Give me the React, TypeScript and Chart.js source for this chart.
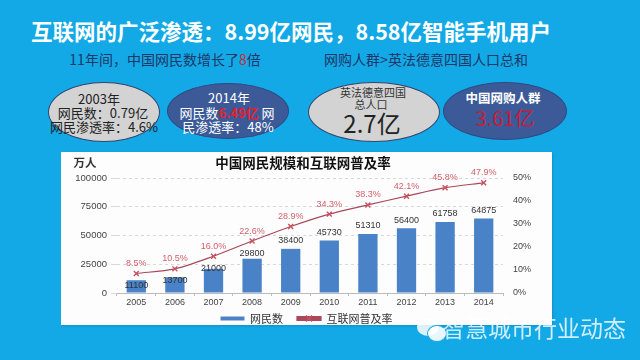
import React, { useEffect, useRef } from "react";
import { Chart, registerables } from "chart.js";

Chart.register(...registerables);

const years = ["2005", "2006", "2007", "2008", "2009", "2010", "2011", "2012", "2013", "2014"];
const netizens = [11100, 13700, 21000, 29800, 38400, 45730, 51310, 56400, 61758, 64875];
const penetration = [8.5, 10.5, 16.0, 22.6, 28.9, 34.3, 38.3, 42.1, 45.8, 47.9];
const seriesNames = ["网民数", "互联网普及率"];
const leftMax = 100000;
const leftStep = 25000;
const rightMax = 50;
const rightStep = 10;

const CJK = "'Noto Sans CJK SC', 'Liberation Sans', sans-serif";
const LATIN = "'Liberation Sans', Arial, 'Noto Sans CJK SC', sans-serif";

const BAR_COLOR = "#4a82c8";
const LINE_COLOR = "#a8485a";
const POINT_COLOR = "#c9505e";
const LABEL_RED = "#d0606a";
const LEGEND_PAD = 14;

function Txt(props: {
  x: number;
  y: number;
  size: number;
  color: string;
  bold?: boolean;
  family?: string;
  children: React.ReactNode;
  opacity?: number;
}) {
  return (
    <div
      style={{
        position: "absolute",
        left: props.x,
        top: props.y,
        transform: "translate(-50%, -50%)",
        whiteSpace: "nowrap",
        fontSize: props.size,
        lineHeight: 1,
        color: props.color,
        fontWeight: props.bold ? 700 : 400,
        fontFamily: props.family || CJK,
        opacity: props.opacity ?? 1,
      }}
    >
      {props.children}
    </div>
  );
}

function Ellipse(props: { cx: number; cy: number; rx: number; ry: number; fill: string; border: string }) {
  return (
    <div
      style={{
        position: "absolute",
        left: props.cx - props.rx,
        top: props.cy - props.ry,
        width: props.rx * 2,
        height: props.ry * 2,
        borderRadius: "50%",
        background: props.fill,
        border: `1px solid ${props.border}`,
        boxSizing: "border-box",
      }}
    />
  );
}

export default function App() {
  const canvasRef = useRef<HTMLCanvasElement>(null);

  useEffect(() => {
    document.body.style.margin = "0";
    const canvas = canvasRef.current;
    if (!canvas) return;

    const labelPlugin = {
      id: "valueLabels",
      beforeUpdate(chart: any) {
        const lg = chart.legend;
        if (lg && !lg.__patched) {
          const orig = lg.fit;
          lg.fit = function () {
            orig.call(this);
            this.height = 12;
          };
          lg.__patched = true;
        }
      },
      afterLayout(chart: any) {
        const lg = chart.legend;
        if (lg) {
          lg.top -= LEGEND_PAD;
        }
      },
      afterDatasetsDraw(chart: any) {
        const ctx = chart.ctx;
        const barMeta = chart.getDatasetMeta(0);
        const lineMeta = chart.getDatasetMeta(1);
        ctx.save();
        ctx.textAlign = "center";
        ctx.textBaseline = "middle";
        ctx.font = `9px ${LATIN}`;
        ctx.fillStyle = "#333";
        barMeta.data.forEach((bar: any, i: number) => {
          const pt = lineMeta.data[i];
          const y = Math.max(bar.y - 8, pt.y + 12);
          ctx.fillText(String(netizens[i]), bar.x, y);
        });
        ctx.fillStyle = LABEL_RED;
        lineMeta.data.forEach((pt: any, i: number) => {
          ctx.fillText(penetration[i].toFixed(1) + "%", pt.x, pt.y - 10);
        });
        ctx.restore();
      },
      afterDraw(chart: any) {
        const legend = chart.legend;
        if (!legend || !legend.legendHitBoxes || legend.legendHitBoxes.length < 2) return;
        const idx = legend.legendItems.findIndex((it: any) => it.datasetIndex === 1);
        if (idx < 0) return;
        const hb = legend.legendHitBoxes[idx];
        const bw = legend.options.labels.boxWidth;
        const cx = hb.left + bw / 2;
        const cy = hb.top + hb.height / 2;
        const ctx = chart.ctx;
        ctx.save();
        ctx.strokeStyle = POINT_COLOR;
        ctx.lineWidth = 1.3;
        ctx.beginPath();
        ctx.moveTo(cx - 3, cy - 3);
        ctx.lineTo(cx + 3, cy + 3);
        ctx.moveTo(cx + 3, cy - 3);
        ctx.lineTo(cx - 3, cy + 3);
        ctx.stroke();
        ctx.restore();
      },
    };

    const chart = new Chart(canvas, {
      type: "bar",
      data: {
        labels: years,
        datasets: [
          {
            type: "bar",
            label: seriesNames[0],
            data: netizens,
            backgroundColor: BAR_COLOR,
            borderColor: BAR_COLOR,
            borderWidth: 0,
            yAxisID: "y",
            barPercentage: 0.5,
            categoryPercentage: 1.0,
            order: 2,
          },
          {
            type: "line",
            label: seriesNames[1],
            data: penetration,
            borderColor: LINE_COLOR,
            backgroundColor: LINE_COLOR,
            borderWidth: 1.2,
            tension: 0.3,
            pointStyle: "crossRot",
            pointRadius: 3.5,
            pointBorderColor: POINT_COLOR,
            pointBorderWidth: 1.4,
            yAxisID: "y1",
            order: 1,
          } as any,
        ],
      },
      options: {
        responsive: false,
        animation: false,
        devicePixelRatio: 1,
        layout: { padding: { top: 26, left: 0, right: 0, bottom: 0 } },
        scales: {
          x: {
            offset: true,
            grid: { display: true, drawOnChartArea: false, drawTicks: true, tickLength: 3, color: "#bbb" },
            border: { display: true, color: "#bbb" },
            ticks: { font: { size: 9, family: LATIN }, color: "#444", padding: 1 },
            afterFit(scale: any) {
              scale.height = 20;
            },
          },
          y: {
            position: "left",
            min: 0,
            max: leftMax,
            ticks: {
              stepSize: leftStep,
              font: { size: 9.5, family: LATIN },
              color: "#444",
              padding: 4,
              callback: (v: any) => String(v),
            },
            grid: { color: "#d8d8d8", tickLength: 6, drawTicks: true },
            border: { display: false, dash: [3, 3] },
            afterFit(scale: any) {
              scale.width = 56;
            },
          },
          y1: {
            position: "right",
            min: 0,
            max: rightMax,
            ticks: {
              stepSize: rightStep,
              font: { size: 9, family: LATIN },
              color: "#444",
              padding: 10,
              callback: (v: any) => v + "%",
            },
            grid: { drawOnChartArea: false, drawTicks: false },
            border: { display: false },
            afterFit(scale: any) {
              scale.width = 49;
            },
          },
        },
        plugins: {
          legend: {
            position: "bottom",
            labels: {
              font: { size: 11, family: CJK },
              color: "#333",
              boxWidth: 24,
              boxHeight: 4,
              padding: LEGEND_PAD,
              sort: (a: any, b: any) => a.datasetIndex - b.datasetIndex,
            },
          },
          tooltip: { enabled: false },
          title: { display: false },
        },
      } as any,
      plugins: [labelPlugin],
    });

    return () => {
      chart.destroy();
    };
  }, []);

  return (
    <div
      style={{
        position: "absolute",
        left: 0,
        top: 0,
        width: 640,
        height: 360,
        background: "#12a9e6",
        overflow: "hidden",
        fontFamily: CJK,
      }}
    >
      <Txt x={291} y={31} size={21.5} color="#ffffff" bold>
        互联网的广泛渗透：8.99亿网民，8.58亿智能手机用户
      </Txt>
      <Txt x={165} y={59} size={14} color="#1f3768">
        11年间，中国网民数增长了<span style={{ color: "#d02a3a" }}>8</span>倍
      </Txt>
      <Txt x={426} y={59} size={14} color="#1f3768">
        网购人群&gt;英法德意四国人口总和
      </Txt>

      <Ellipse cx={104} cy={112} rx={56} ry={30} fill="#d3d3d3" border="#33466e" />
      <Txt x={99} y={98} size={13} color="#222">2003年</Txt>
      <Txt x={103} y={112} size={13} color="#222">网民数：0.79亿</Txt>
      <Txt x={104} y={126} size={13} color="#222">网民渗透率：4.6%</Txt>

      <Ellipse cx={228} cy={111} rx={61} ry={28} fill="#3c5a98" border="#2e4a82" />
      <Txt x={229} y={97} size={13} color="#fff">2014年</Txt>
      <Txt x={227} y={112} size={13} color="#fff">
        网民数<span style={{ color: "#e8202c", fontWeight: 700 }}>6.49亿</span> 网
      </Txt>
      <Txt x={228} y={126} size={13} color="#fff">民渗透率：48%</Txt>

      <Ellipse cx={374} cy={112} rx={66} ry={30} fill="#d3d3d3" border="#33466e" />
      <Txt x={373} y={92} size={11} color="#333">英法德意四国</Txt>
      <Txt x={371} y={104} size={11} color="#333">总人口</Txt>
      <Txt x={372} y={123} size={24} color="#222">2.7亿</Txt>

      <Ellipse cx={505} cy={111} rx={62} ry={29} fill="#3c5a98" border="#2e4a82" />
      <Txt x={503} y={98} size={12.5} color="#fff" bold>中国网购人群</Txt>
      <Txt x={505} y={118} size={20} color="#c41e3a">3.61亿</Txt>

      <div
        style={{
          position: "absolute",
          left: 61,
          top: 152,
          width: 491,
          height: 173,
          background: "#fdfdfd",
          boxShadow: "1px 1px 2px rgba(0,0,0,0.15)",
        }}
      >
        <canvas ref={canvasRef} width={491} height={173} style={{ display: "block" }} />
        <Txt x={24} y={11} size={11.5} color="#333" bold>万人</Txt>
        <Txt x={242} y={11} size={13.5} color="#111" bold>中国网民规模和互联网普及率</Txt>
      </div>

      <div
        style={{
          position: "absolute",
          left: 417,
          top: 318,
          width: 22,
          height: 18,
          borderRadius: "50%",
          background: "rgba(255,255,255,0.85)",
        }}
      />
      <div
        style={{
          position: "absolute",
          left: 427,
          top: 325,
          width: 18,
          height: 15,
          borderRadius: "50%",
          background: "rgba(255,255,255,0.9)",
          border: "1px solid #12a9e6",
        }}
      />
      <Txt x={534} y={327} size={23} color="rgba(255,255,255,0.8)">智慧城市行业动态</Txt>
    </div>
  );
}
